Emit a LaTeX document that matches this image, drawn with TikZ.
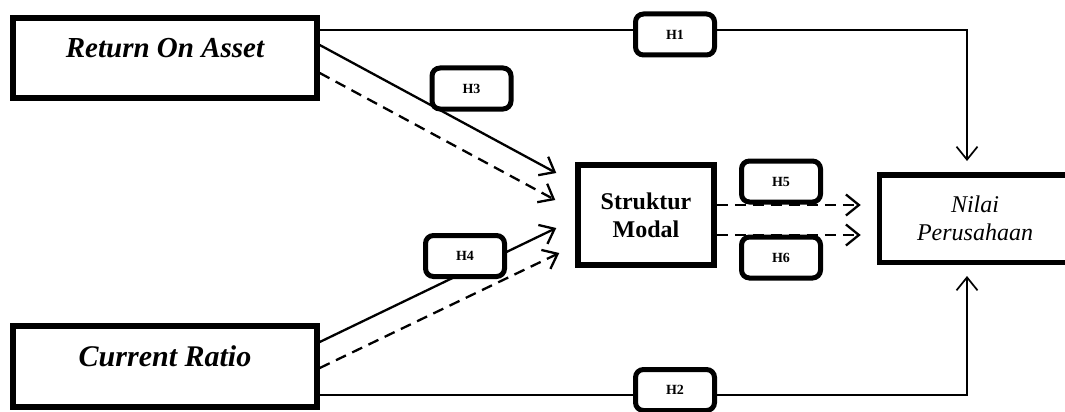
\documentclass[tikz,border=0pt]{standalone}
\usepackage{fontspec}
\setmainfont{Liberation Serif}
\usetikzlibrary{arrows.meta,calc}

\begin{document}
\begin{tikzpicture}[x=1pt,y=-1pt,
  >={Straight Barb[length=13pt,width=21pt]},
  var/.style={draw, line width=5.5pt, align=center},
  hyp/.style={draw, fill=white, line width=5pt, rounded corners=8pt, minimum width=79pt, minimum height=41pt, font=\fontsize{14}{16}\selectfont\bfseries},
  link/.style={line width=2.3pt},
  dashlink/.style={line width=2.3pt, dash pattern=on 11pt off 7pt}]

\useasboundingbox (0,0) rectangle (1065,412);

\node[var, minimum width=304pt, minimum height=80pt, text height=20pt, text depth=20pt, font=\fontsize{29}{34}\selectfont\bfseries\itshape] (roa) at (165,58) {Return On Asset};
\node[var, minimum width=304pt, minimum height=81pt, text height=20pt, text depth=20pt, font=\fontsize{30}{35}\selectfont\bfseries\itshape] (cr) at (165,366.5) {Current Ratio};
\node[var, minimum width=136pt, minimum height=100pt, font=\fontsize{24}{28}\selectfont\bfseries] (sm) at (646,215) {Struktur\\Modal};
\node[var, minimum width=191pt, minimum height=87.5pt, font=\fontsize{24}{28}\selectfont\itshape] (np) at (975,218.5) {Nilai\\Perusahaan};

% direct effects
\draw[->, line width=1.7pt, shorten >=11pt] ([yshift=28pt]roa.east) -| ([xshift=-8pt]np.north);
\draw[->, line width=1.7pt, shorten >=11pt] ([yshift=-28.5pt]cr.east) -| ([xshift=-8pt]np.south);

% to struktur modal
\draw[->, link] ([yshift=13pt]roa.east) -- ([xshift=-19pt,yshift=42pt]sm.west);
\draw[->, dashlink] ([yshift=-15pt]roa.east) -- ([xshift=-20pt,yshift=15pt]sm.west);
\draw[->, link] ([yshift=24.5pt]cr.east) -- ([xshift=-19pt,yshift=-13pt]sm.west);
\draw[->, dashlink] ([yshift=-1.5pt]cr.east) -- ([xshift=-16pt,yshift=-38pt]sm.west);

% mediation
\draw[->, dashlink] ([yshift=10pt]sm.east) -- ([xshift=-16pt,yshift=13.5pt]np.west);
\draw[->, dashlink] ([yshift=-20pt]sm.east) -- ([xshift=-16pt,yshift=-16.5pt]np.west);

\node[hyp] (h1) at (675,34.5) {H1};
\node[hyp] (h2) at (675,390) {H2};
\node[hyp] (h3) at (471.5,88.5) {H3};
\node[hyp] (h4) at (465,256) {H4};
\node[hyp] (h5) at (781,181.5) {H5};
\node[hyp] (h6) at (781,257.5) {H6};

\end{tikzpicture}
\end{document}
